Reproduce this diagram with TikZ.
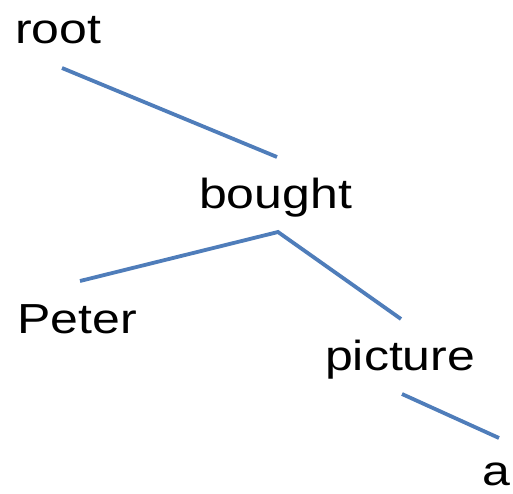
\documentclass[tikz,border=0pt]{standalone}
\usepackage{fontspec}
\setmainfont[FakeStretch=1.19]{Liberation Sans}
\definecolor{edgeblue}{HTML}{4F7DBA}
\begin{document}
\begin{tikzpicture}[x=1pt,y=-1pt,
  word/.style={anchor=base west,inner sep=0pt,font=\fontsize{42}{42}\selectfont},
  edge/.style={draw=edgeblue,line width=3.8pt}]
\useasboundingbox (0,0) rectangle (513,493);
\node[word] (root) at (15,43) {root};
\node[word] (bought) at (199,208) {bought};
\node[word] (peter) at (17,333) {Peter};
\node[word] (picture) at (325,370) {picture};
\node[word] (a) at (482,485) {a};
\coordinate (rootS) at (62,68);
\coordinate (boughtN) at (277,157);
\coordinate (boughtS) at (278,232);
\coordinate (peterN) at (80,281);
\coordinate (pictureN) at (401,319);
\coordinate (pictureS) at (402,394);
\coordinate (aN) at (499,438);
\draw[edge] (rootS) -- (boughtN);
\draw[edge] (peterN) -- (boughtS) -- (pictureN);
\draw[edge] (pictureS) -- (aN);
\end{tikzpicture}
\end{document}
